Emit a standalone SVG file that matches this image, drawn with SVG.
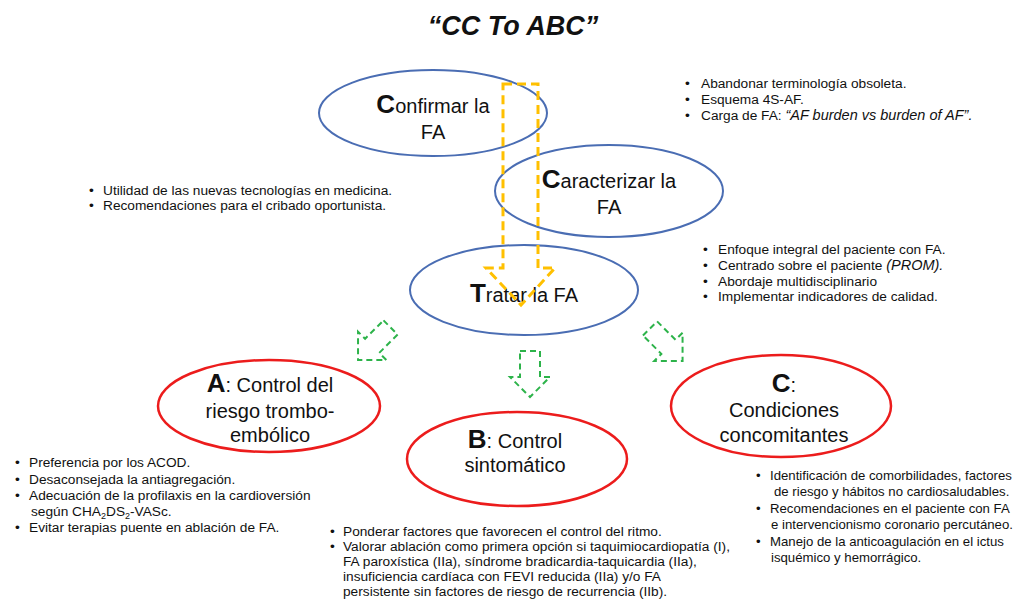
<svg xmlns="http://www.w3.org/2000/svg" width="1021" height="603" viewBox="0 0 1021 603">
<defs>
<style>
text{font-family:"Liberation Sans",Arial,sans-serif;fill:#111}
.title{font-size:27px;font-weight:bold;font-style:italic;text-anchor:middle}
.blue{fill:none;stroke:#4a6db3;stroke-width:2}
.red{fill:none;stroke:#ec1c1c;stroke-width:2.5}
.nt{font-size:20px;text-anchor:middle}
.big{font-size:26px;font-weight:bold}
.b{font-size:13.7px}
.bc{font-size:13.2px}
.it{font-style:italic;font-size:14.5px}
.sub{font-size:9px}
.yarrow{fill:none;stroke:#ffc000;stroke-width:3;stroke-dasharray:9 5}
.garrow{fill:none;stroke:#2db34a;stroke-width:2;stroke-dasharray:6 4}
</style>
<polygon id="darrow" points="-10,-23 10,-23 10,3 20,3 0,23 -20,3 -10,3"/>
</defs>
<rect width="1021" height="603" fill="#fff"/>
<text class="title" x="513" y="35">“CC To ABC”</text>

<g id="node-confirmar">
<ellipse class="blue" cx="433" cy="113" rx="114" ry="43"/>
<text class="nt" x="433" y="113"><tspan class="big">C</tspan>onfirmar la</text>
<text class="nt" x="433" y="139">FA</text>
</g>
<g id="node-caracterizar">
<ellipse class="blue" cx="609" cy="191" rx="114" ry="46"/>
<text class="nt" x="609" y="188"><tspan class="big">C</tspan>aracterizar la</text>
<text class="nt" x="609" y="214">FA</text>
</g>
<g id="node-tratar">
<ellipse class="blue" cx="524" cy="290" rx="114" ry="45"/>
<text class="nt" x="524" y="302"><tspan class="big">T</tspan>ratar la FA</text>
</g>
<g id="node-a">
<ellipse class="red" cx="269" cy="406" rx="111" ry="46"/>
<text class="nt" x="270" y="392"><tspan class="big">A</tspan>: Control del</text>
<text class="nt" x="270" y="418">riesgo trombo-</text>
<text class="nt" x="270" y="442">embólico</text>
</g>
<g id="node-b">
<ellipse class="red" cx="517" cy="459" rx="110" ry="47"/>
<text class="nt" x="515" y="448"><tspan class="big">B</tspan>: Control</text>
<text class="nt" x="515" y="472">sintomático</text>
</g>
<g id="node-c">
<ellipse class="red" cx="781" cy="406" rx="110" ry="51"/>
<text class="nt" x="784" y="392"><tspan class="big">C</tspan>:</text>
<text class="nt" x="784" y="417">Condiciones</text>
<text class="nt" x="784" y="442">concomitantes</text>
</g>

<g id="connectors">
<polygon class="yarrow" points="503,84 538,84 538,268 555,268 521,305 486,268 503,268"/>
<use href="#darrow" class="garrow" transform="translate(374.3,343.7) rotate(45)"/>
<use href="#darrow" class="garrow" transform="translate(530,374)"/>
<use href="#darrow" class="garrow" transform="translate(666.3,344.7) rotate(-45)"/>
</g>

<g id="notes-confirmar">
<text class="b" x="685" y="88">•</text><text class="b" x="701" y="88">Abandonar terminología obsoleta.</text>
<text class="b" x="685" y="104">•</text><text class="b" x="701" y="104">Esquema 4S-AF.</text>
<text class="b" x="685" y="120">•</text><text class="b" x="701" y="120">Carga de FA: <tspan class="it">“AF burden vs burden of AF”.</tspan></text>
</g>
<g id="notes-cribado">
<text class="b" x="89" y="195">•</text><text class="b" x="103" y="195">Utilidad de las nuevas tecnologías en medicina.</text>
<text class="b" x="89" y="210">•</text><text class="b" x="103" y="210">Recomendaciones para el cribado oportunista.</text>
</g>
<g id="notes-tratar">
<text class="b" x="703" y="254">•</text><text class="b" x="718" y="254">Enfoque integral del paciente con FA.</text>
<text class="b" x="703" y="270">•</text><text class="b" x="718" y="270">Centrado sobre el paciente <tspan class="it" font-size="16px">(PROM).</tspan></text>
<text class="b" x="703" y="286">•</text><text class="b" x="718" y="286">Abordaje multidisciplinario</text>
<text class="b" x="703" y="301">•</text><text class="b" x="718" y="301">Implementar indicadores de calidad.</text>
</g>
<g id="notes-a">
<text class="b" x="15" y="467">•</text><text class="b" x="29" y="467">Preferencia por los ACOD.</text>
<text class="b" x="15" y="484">•</text><text class="b" x="29" y="484">Desaconsejada la antiagregación.</text>
<text class="b" x="15" y="500">•</text><text class="b" x="29" y="500">Adecuación de la profilaxis en la cardioversión</text>
<text class="b" x="31" y="516">según CHA<tspan class="sub" dy="3">2</tspan><tspan dy="-3">DS</tspan><tspan class="sub" dy="3">2</tspan><tspan dy="-3">-VASc.</tspan></text>
<text class="b" x="15" y="532">•</text><text class="b" x="29" y="532">Evitar terapias puente en ablación de FA.</text>
</g>
<g id="notes-b">
<text class="b" x="330" y="536">•</text><text class="b" x="343" y="536">Ponderar factores que favorecen el control del ritmo.</text>
<text class="b" x="330" y="551">•</text><text class="b" x="343" y="551">Valorar ablación como primera opción si taquimiocardiopatía (I),</text>
<text class="b" x="343" y="566">FA paroxística (IIa), síndrome bradicardia-taquicardia (IIa),</text>
<text class="b" x="343" y="581">insuficiencia cardíaca con FEVI reducida (IIa) y/o FA</text>
<text class="b" x="343" y="596">persistente sin factores de riesgo de recurrencia (IIb).</text>
</g>
<g id="notes-c">
<text class="bc" x="756" y="480">•</text><text class="bc" x="770" y="480">Identificación de comorbilidades, factores</text>
<text class="bc" x="774" y="496">de riesgo y hábitos no cardiosaludables.</text>
<text class="bc" x="756" y="513">•</text><text class="bc" x="770" y="513">Recomendaciones en el paciente con FA</text>
<text class="bc" x="771" y="529">e intervencionismo coronario percutáneo.</text>
<text class="bc" x="756" y="546">•</text><text class="bc" x="770" y="546">Manejo de la anticoagulación en el ictus</text>
<text class="bc" x="771" y="562">isquémico y hemorrágico.</text>
</g>
</svg>
